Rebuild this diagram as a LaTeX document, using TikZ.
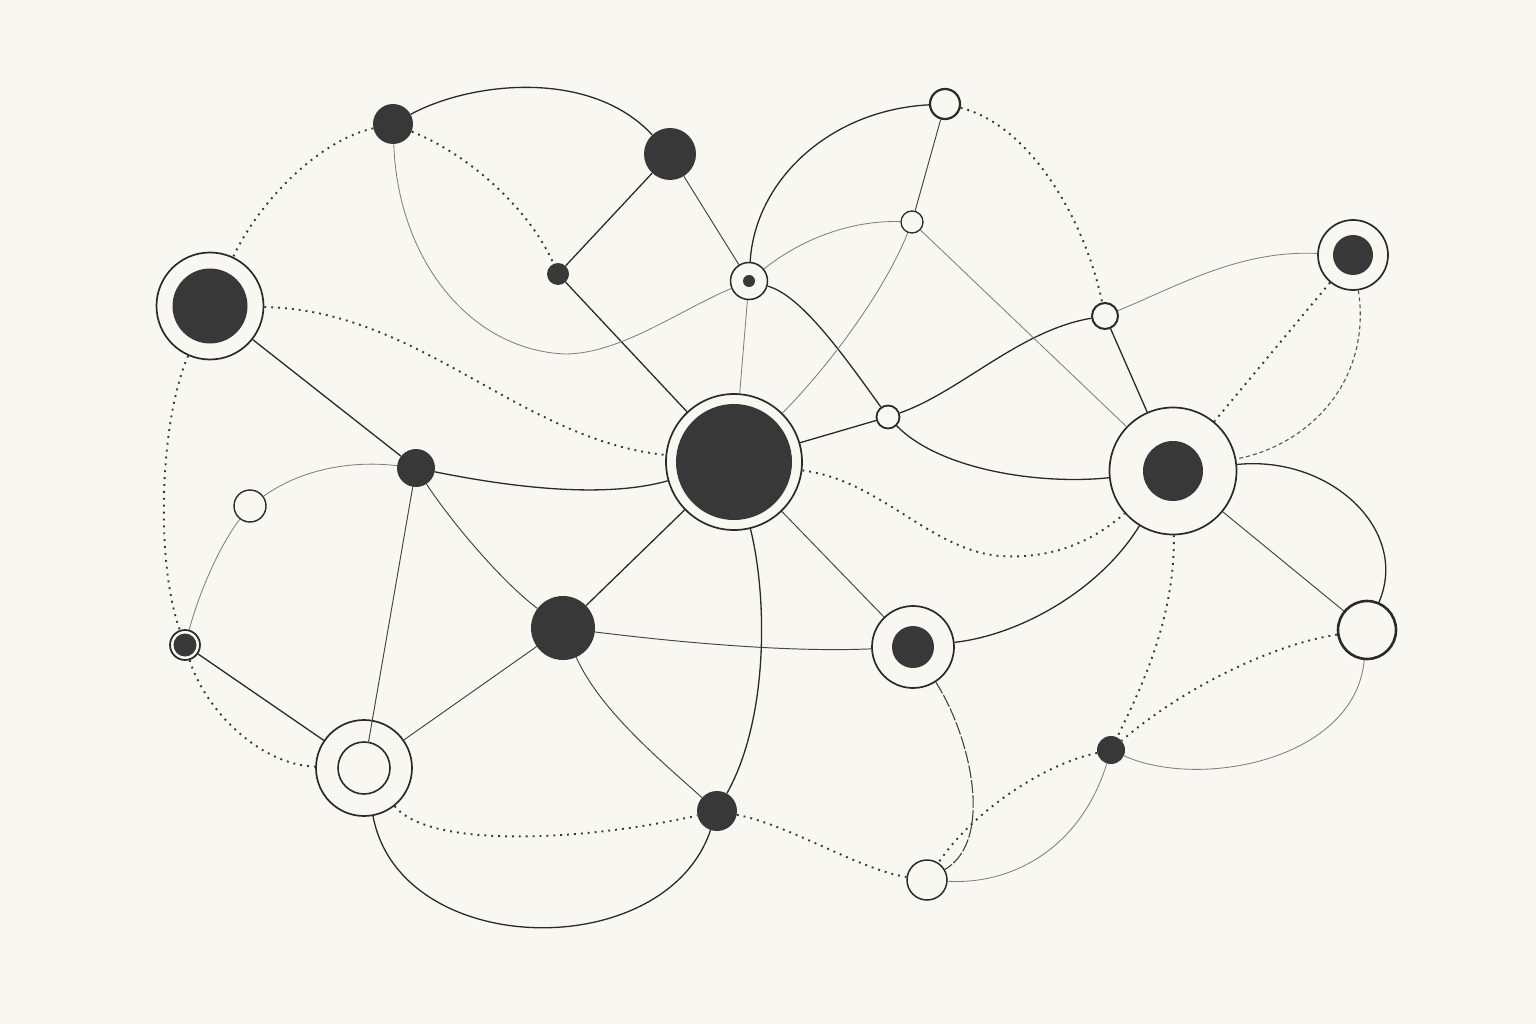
\documentclass[tikz,border=0pt]{standalone}
\usepackage{tikz}
\definecolor{bgc}{HTML}{F9F7F2}
\definecolor{ink}{HTML}{2A2A2A}
\definecolor{dotc}{HTML}{383838}
\definecolor{midc}{HTML}{444444}
\definecolor{grayc}{HTML}{808080}
\definecolor{dashc}{HTML}{555555}
\tikzset{
  dotfill/.style={circle, fill=dotc, draw=none, inner sep=0pt},
  ringout/.style={circle, draw=ink, line width=1.7pt, fill=bgc, inner sep=0pt},
  opencirc/.style={circle, draw=ink, line width=1.6pt, fill=bgc, inner sep=0pt},
  boldopen/.style={circle, draw=ink, line width=2.4pt, fill=bgc, inner sep=0pt},
  edge/.style={draw=ink, line width=1.3pt},
  thinedge/.style={draw=midc, line width=0.95pt},
  grayedge/.style={draw=grayc, line width=0.85pt},
  dotedge/.style={draw=dotc, line width=1.9pt, dash pattern=on 1.9pt off 5pt},
  dashedge/.style={draw=dashc, line width=1.1pt, dash pattern=on 4pt off 3pt},
  longdash/.style={draw=midc, line width=1.1pt, dash pattern=on 13pt off 2pt}
}
\begin{document}
\begin{tikzpicture}[x=1pt,y=-1pt]
\fill[bgc] (0,0) rectangle (1536,1024);
\useasboundingbox (0,0) rectangle (1536,1024);

% nodes
\node[dotfill, minimum size=40pt] (A) at (393,124) {};
\node[dotfill, minimum size=52pt] (B) at (670,154) {};
\node[dotfill, minimum size=22pt] (C) at (558,274) {};
\node[ringout, minimum size=37pt, line width=1.5pt] (D) at (749,281) {};
\node[dotfill, minimum size=12pt] (Din) at (D) {};
\node[ringout, minimum size=107pt] (E) at (210,306) {};
\node[dotfill, minimum size=75pt] (Ein) at (E) {};
\node[boldopen, minimum size=30pt, line width=2.2pt] (F) at (945,104) {};
\node[opencirc, minimum size=22pt, line width=1.3pt] (G) at (912,222) {};
\node[ringout, minimum size=70pt] (H) at (1353,255) {};
\node[dotfill, minimum size=40pt] (Hin) at (H) {};
\node[boldopen, minimum size=26pt, line width=2pt] (I) at (1105,316) {};
\node[opencirc, minimum size=23pt, line width=1.8pt] (J) at (888,417) {};
\node[ringout, minimum size=136pt] (K) at (734,462) {};
\node[dotfill, minimum size=116pt] (Kin) at (K) {};
\node[ringout, minimum size=127pt] (L) at (1173,471) {};
\node[dotfill, minimum size=60pt] (Lin) at (L) {};
\node[dotfill, minimum size=38pt] (M) at (416,468) {};
\node[opencirc, minimum size=32pt, line width=1.4pt] (N) at (250,506) {};
\node[dotfill, minimum size=64pt] (O) at (563,628) {};
\node[ringout, minimum size=82pt] (P) at (913,647) {};
\node[dotfill, minimum size=42pt] (Pin) at (P) {};
\node[boldopen, minimum size=58pt, line width=2.6pt] (Q) at (1367,630) {};
\node[ringout, minimum size=30pt] (R) at (185,645) {};
\node[dotfill, minimum size=23pt] (Rin) at (R) {};
\node[ringout, minimum size=96pt] (S) at (364,768) {};
\node[opencirc, minimum size=52pt] (Sin) at (S) {};
\node[dotfill, minimum size=28pt] (T) at (1111,750) {};
\node[dotfill, minimum size=40pt] (U) at (717,811) {};
\node[opencirc, minimum size=40pt, line width=1.5pt] (V) at (927,880) {};

% solid dark edges
\draw[edge] (A) .. controls (470,82) and (590,68) .. (B);
\draw[edge] (B) -- (C);
\draw[thinedge] (B) -- (D);
\draw[edge] (C) -- (K);
\draw[edge] (D) .. controls (755,180) and (830,110) .. (F);
\draw[edge] (D) .. controls (800,295) and (840,350) .. (J);
\draw[edge] (J) .. controls (960,392) and (1020,330) .. (I);
\draw[edge] (J) .. controls (940,470) and (1040,485) .. (L);
\draw[edge] (K) -- (J);
\draw[edge] (M) .. controls (500,485) and (600,500) .. (K);
\draw[thinedge] (M) .. controls (450,520) and (500,580) .. (O);
\draw[edge] (E) -- (M);
\draw[edge] (R) -- (S);
\draw[edge] (O) -- (K);
\draw[edge] (K) .. controls (768,600) and (768,720) .. (U);
\draw[thinedge] (K) -- (P);
\draw[edge] (I) -- (L);
\draw[edge] (L) .. controls (1330,455) and (1410,530) .. (Q);
\draw[edge] (L) .. controls (1100,590) and (1020,635) .. (P);
\draw[edge] (S) .. controls (400,960) and (665,965) .. (U);
\draw[thinedge] (O) .. controls (700,645) and (800,652) .. (P);
\draw[thinedge] (O) .. controls (600,710) and (660,760) .. (U);
\draw[thinedge] (F) -- (G);
\draw[thinedge] (L) -- (Q);
\draw[thinedge] (M) -- (Sin);
\draw[thinedge] (S) -- (O);
\draw[longdash] (P) .. controls (970,735) and (995,840) .. (V);

% thin gray edges
\draw[grayedge] (A) .. controls (398,260) and (470,350) .. (565,354) .. controls (620,354) and (680,310) .. (D);
\draw[grayedge] (D) .. controls (800,240) and (850,220) .. (G);
\draw[grayedge] (K) .. controls (830,365) and (885,290) .. (G);
\draw[grayedge] (K) -- (D);
\draw[grayedge] (G) -- (L);
\draw[grayedge] (I) .. controls (1180,285) and (1240,250) .. (H);
\draw[grayedge] (N) .. controls (300,470) and (350,460) .. (M);
\draw[grayedge] (R) .. controls (200,590) and (220,545) .. (N);
\draw[grayedge] (Q) .. controls (1355,760) and (1200,790) .. (T);
\draw[grayedge] (T) .. controls (1080,850) and (1010,885) .. (V);

% dotted edges
\draw[dotedge] (A) .. controls (320,140) and (260,200) .. (E);
\draw[dotedge] (A) .. controls (470,155) and (530,210) .. (C);
\draw[dotedge] (E) .. controls (420,310) and (520,440) .. (K);
\draw[dotedge] (E) .. controls (160,420) and (155,560) .. (R);
\draw[dotedge] (R) .. controls (205,710) and (260,765) .. (S);
\draw[dotedge] (S) .. controls (430,850) and (590,840) .. (U);
\draw[dotedge] (U) .. controls (790,825) and (860,870) .. (V);
\draw[dotedge] (F) .. controls (1030,125) and (1085,220) .. (I);
\draw[dotedge] (K) .. controls (880,480) and (930,550) .. (1000,556) .. controls (1060,560) and (1100,535) .. (L);
\draw[dotedge] (H) -- (L);
\draw[dashedge] (H) .. controls (1372,380) and (1310,445) .. (L);
\draw[dotedge] (L) .. controls (1175,620) and (1140,690) .. (T);
\draw[dotedge] (Q) .. controls (1270,645) and (1180,690) .. (T);
\draw[dotedge] (T) .. controls (1040,765) and (970,815) .. (V);
\end{tikzpicture}
\end{document}
